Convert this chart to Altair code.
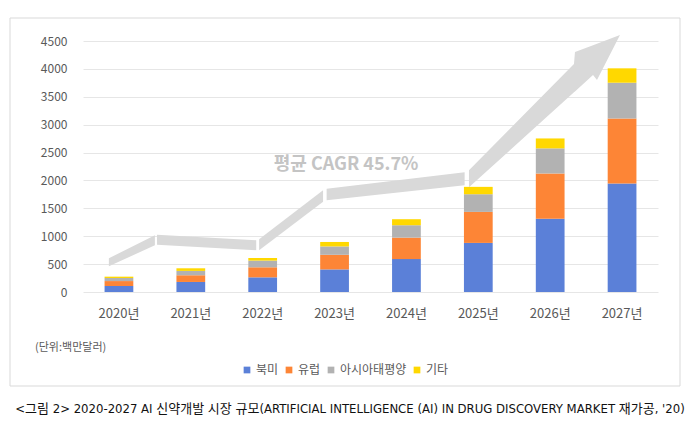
import altair as alt
import pandas as pd

years = ['2020년', '2021년', '2022년', '2023년', '2024년', '2025년', '2026년', '2027년']
regions = ['북미', '유럽', '아시아태평양', '기타']
north_america = [108, 180, 263, 405, 590, 880, 1315, 1945]
europe = [88, 120, 180, 262, 385, 556, 810, 1167]
asia_pacific = [55, 78, 120, 150, 222, 317, 450, 640]
others = [24, 47, 47, 80, 108, 132, 178, 258]
colors = ['#5b80d8', '#fd8536', '#b2b2b2', '#ffd800']
y_ticks = [0, 500, 1000, 1500, 2000, 2500, 3000, 3500, 4000, 4500]

# decorative growth arrow, in data units (year index, value)
arrow_seg = ['s1', 's1', 's2', 's2', 's3', 's3', 's4', 's4',
             's5', 's5', 's5', 's5', 's5', 's5']
arrow_t = [-0.14, 0.50, 0.53, 1.91, 1.95, 2.84, 2.89, 4.81,
           4.87, 6.331, 6.345, 6.596, 6.651, 6.971]
arrow_top = [605, 1018, 1027, 928, 946, 1826, 1852, 2149,
             2185, 4089, 4303, 4425, 4452, 4608]
arrow_bot = [461, 838, 847, 749, 749, 1619, 1646, 1915,
             1879, 3579, 3595, 3890, 3800, 4608]

cagr_text = ['평균 CAGR 45.7%']
cagr_t = [3.16]
cagr_v = [2274]

unit_text = '(단위:백만달러)'
caption_text = "<그림 2> 2020-2027 AI 신약개발 시장 규모(ARTIFICIAL INTELLIGENCE (AI) IN DRUG DISCOVERY MARKET 재가공, '20)"

rows = []
series = [north_america, europe, asia_pacific, others]
for r_i, (reg, vals) in enumerate(zip(regions, series)):
    for y, v in zip(years, vals):
        rows.append({'year': y, 'region': reg, 'value': v, 'rank': r_i})
bars_df = pd.DataFrame(rows)

arrow_df = pd.DataFrame({'seg': arrow_seg, 't': arrow_t, 'top': arrow_top, 'bot': arrow_bot})
cagr_df = pd.DataFrame({'label': cagr_text, 't': cagr_t, 'v': cagr_v})
one = pd.DataFrame({'a': [0]})

FONT = 'Noto Sans CJK KR'
overlay_x = alt.Scale(domain=[-0.5, 7.5], nice=False, zero=False)
y_scale = alt.Scale(domain=[0, 4500], nice=False)

frame = alt.Chart(one).mark_rect(fillOpacity=0, stroke='#d9d9d9', strokeWidth=1).encode(
    x=alt.value(-73), x2=alt.value(597), y=alt.value(-23), y2=alt.value(345)
)

arrow = alt.Chart(arrow_df).mark_area(color='#d9d9d9', opacity=1).encode(
    x=alt.X('t:Q', scale=overlay_x, axis=None),
    y=alt.Y('top:Q', scale=y_scale, axis=None),
    y2='bot:Q',
    detail='seg:N',
)

cagr = alt.Chart(cagr_df).mark_text(
    font=FONT, fontSize=18, fontWeight='bold', color='#c4c4c4'
).encode(
    x=alt.X('t:Q', scale=overlay_x, axis=None),
    y=alt.Y('v:Q', scale=y_scale, axis=None),
    text='label:N',
)

bars = alt.Chart(bars_df).mark_bar().encode(
    x=alt.X('year:N', sort=years, title=None,
            scale=alt.Scale(paddingInner=0.6, paddingOuter=0.3),
            axis=alt.Axis(labelAngle=0, labelFontSize=13, labelColor='#595959',
                          labelFont=FONT, labelPadding=15, ticks=False, domain=False,
                          grid=False)),
    y=alt.Y('value:Q', stack='zero', scale=y_scale, title=None,
            axis=alt.Axis(values=y_ticks, format='d', labelOverlap=False,
                          labelFontSize=12, labelColor='#595959',
                          labelFont=FONT, labelPadding=16, ticks=False, domain=False,
                          grid=True, gridColor='#e6e6e6')),
    color=alt.Color('region:N', sort=regions,
                    scale=alt.Scale(domain=regions, range=colors),
                    legend=alt.Legend(orient='none', legendX=158, legendY=323,
                                      direction='horizontal', title=None,
                                      symbolType='square', symbolSize=45,
                                      symbolStrokeWidth=0,
                                      labelFontSize=12, labelColor='#595959',
                                      labelFont=FONT, columnPadding=4,
                                      labelOffset=3)),
    order=alt.Order('rank:Q', sort='ascending'),
)

unit = alt.Chart(one).mark_text(
    font=FONT, fontSize=11, color='#595959', align='left', baseline='middle'
).encode(x=alt.value(-48), y=alt.value(307), text=alt.value(unit_text))

caption = alt.Chart(one).mark_text(
    font='Liberation Sans Narrow, DejaVu Sans Condensed, ' + FONT,
    fontSize=13, color='#111111', align='center', baseline='middle'
).encode(x=alt.value(267), y=alt.value(368), text=alt.value(caption_text))

chart = alt.layer(frame, arrow, cagr, bars, unit, caption).resolve_scale(
    x='independent', y='independent'
).properties(
    width=575, height=251,
    autosize=alt.AutoSizeParams(type='none'),
    padding={'left': 75, 'top': 33, 'right': 34, 'bottom': 136},
).configure(font=FONT).configure_view(strokeWidth=0, stroke='transparent')

chart.save('out.html', embed_options={'renderer': 'svg', 'actions': False})
